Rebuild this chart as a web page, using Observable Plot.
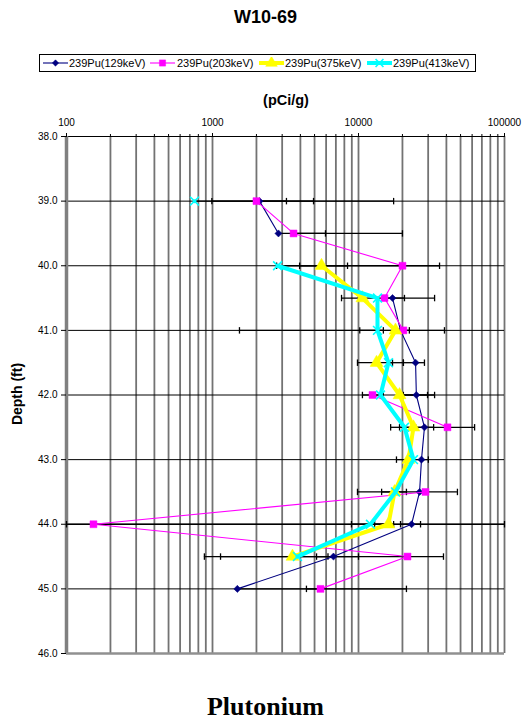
<!DOCTYPE html>
<html><head><meta charset="utf-8">
<script src="https://cdn.jsdelivr.net/npm/d3@7"></script>
<script src="https://cdn.jsdelivr.net/npm/@observablehq/plot@0.6"></script>
<style>
body{margin:0;background:#fff;font-family:"Liberation Sans",Arial,sans-serif;}
#wrap{position:relative;width:522px;height:723px;overflow:hidden;background:#fff;}
.abs{position:absolute;white-space:nowrap;line-height:1;color:#000;}
</style></head><body><div id="wrap"></div>
<script>
// ---------------- data ----------------
const depths = [39.0, 39.5, 40.0, 40.5, 41.0, 41.5, 42.0, 42.5, 43.0, 43.5, 44.0, 44.5, 45.0];
const seriesNames = ["239Pu(129keV)", "239Pu(203keV)", "239Pu(375keV)", "239Pu(413keV)"];
const pu129 = [2100, 2830, null, 17100, 19400, 24600, 24900, 28300, 27000, 26200, 23100, 6740, 1480];
const pu203 = [2000, 3590, 20000, 15070, 20300, null, 12470, 40700, null, 28760, 153, 21660, 5490];
const pu375 = [null, null, 5580, 10640, 17920, 13290, 19100, 23800, 22000, 17650, 16040, 3530, null];
const pu413 = [753, null, 2790, 13490, 13490, 16040, 14150, 20650, 23800, 17920, 12080, 3820, null];
// error bar ends (pCi/g); null = that side not drawn
const pu129Lo = [990, null, null, 7650, 1530, 20300, 20300, 24600, null, null, 19400, 3480, null];
const pu129Hi = [3210, 5940, null, 33200, 38800, 28300, 29700, 32700, null, null, 26600, 10000, 21300];
const pu203Lo = [null, null, 3950, null, 18300, null, 10640, 19100, null, 9840, 100, 5160, 4400];
const pu203Hi = [4920, 20000, 35900, 20650, 22300, null, 14800, 62400, null, 47600, 100000, 38200, null];
const pu375Lo = [null, null, 2750, null, null, 9840, null, 16600, null, 14400, 12900, 880, null];
const pu375Hi = [null, null, 8410, null, null, 17100, 33200, null, null, 21300, null, 6180, null];
const pu413Lo = [null, null, null, null, 10200, null, null, null, 18200, null, 8950, 1135, null];
const pu413Hi = [17400, null, null, null, 14800, 20300, null, null, 30100, null, 17400, null, null];
const xTickValues = [100, 1000, 10000, 100000];
const depthTicks = [38, 39, 40, 41, 42, 43, 44, 45, 46];

// ---------------- styles ----------------
const styles = [
  {color: "#000080", symbol: "diamond2", r: 3.2, lw: 1.1, fill: true},
  {color: "#FF00FF", symbol: "square", r: 3.9, lw: 1.1, fill: true},
  {color: "#FFFF00", symbol: "triangle", r: 4.8, lw: 4, fill: true},
  {color: "#00FFFF", symbol: "times", r: 4.1, lw: 4, fill: false}
];
const values = [pu129, pu203, pu375, pu413];
const los = [pu129Lo, pu203Lo, pu375Lo, pu413Lo];
const his = [pu129Hi, pu203Hi, pu375Hi, pu413Hi];

const rows = [];
seriesNames.forEach((name, s) => depths.forEach((d, i) => rows.push({
  s, name, depth: d, value: values[s][i], lo: los[s][i], hi: his[s][i]
})));
const errRows = rows.filter(r => r.value != null && (r.lo != null || r.hi != null));
const capRows = [];
errRows.forEach(r => {
  if (r.lo != null) capRows.push({depth: r.depth, x: r.lo});
  if (r.hi != null) capRows.push({depth: r.depth, x: r.hi});
});
const gridX = d3.range(2, 5).flatMap(k => d3.range(1, 10).map(m => m * 10 ** k)).concat([100000]);

const seriesMarks = styles.flatMap((st, s) => {
  const data = rows.filter(r => r.s === s);
  return [
    Plot.line(data, {x: "value", y: "depth", stroke: st.color, strokeWidth: st.lw}),
    Plot.dot(data.filter(r => r.value != null), {
      x: "value", y: "depth", symbol: st.symbol, r: st.r,
      fill: st.fill ? st.color : "none", stroke: st.color, strokeWidth: st.fill ? 0.5 : 1.6
    })
  ];
});

const chart = Plot.plot({
  width: 522, height: 600,
  marginTop: 56, marginBottom: 27, marginLeft: 66, marginRight: 18,
  style: {fontFamily: "'Liberation Sans', Arial, sans-serif", fontSize: "10px", background: "transparent", color: "#000", overflow: "visible"},
  x: {type: "log", domain: [100, 100000], label: null},
  y: {domain: [38, 46], reverse: true, label: null},
  marks: [
    Plot.ruleX(gridX, {stroke: "#737373", strokeWidth: 1.8}),
    Plot.ruleY(depthTicks, {stroke: "#000", strokeWidth: 1}),
    Plot.ruleX([100], {stroke: "#808080", strokeWidth: 3.5}),
    Plot.ruleY([46], {stroke: "#909090", strokeWidth: 2.5}),
    Plot.ruleY(errRows, {y: "depth", x1: r => r.lo ?? r.value, x2: r => r.hi ?? r.value, stroke: "#000", strokeWidth: 1.3, clip: true}),
    Plot.link(capRows, {x1: "x", x2: "x", y1: r => r.depth - 0.05, y2: r => r.depth + 0.05, stroke: "#000", strokeWidth: 1.3}),
    ...seriesMarks,
    Plot.axisX(gridX, {anchor: "top", tickSize: 3, tickFormat: () => "", label: null}),
    Plot.axisX({anchor: "top", ticks: xTickValues, tickFormat: d => String(d), tickSize: 4, tickPadding: 7, label: null, fontSize: 10}),
    Plot.axisY({ticks: depthTicks, tickFormat: d3.format(".1f"), tickSize: 5, tickPadding: 4, label: null, fontSize: 10})
  ]
});

const wrap = document.getElementById("wrap");
chart.style.position = "absolute";
chart.style.left = "0px";
chart.style.top = "80px";
wrap.appendChild(chart);

function addText(txt, css) {
  const el = document.createElement("div");
  el.className = "abs";
  el.textContent = txt;
  Object.assign(el.style, css);
  wrap.appendChild(el);
  return el;
}
addText("W10-69", {left: "265.5px", top: "8px", transform: "translateX(-50%)", fontWeight: "bold", fontSize: "18px"});
addText("(pCi/g)", {left: "286px", top: "93px", transform: "translateX(-50%)", fontWeight: "bold", fontSize: "14.5px"});
addText("Depth (ft)", {left: "17px", top: "394px", transform: "translate(-50%,-50%) rotate(-90deg)", fontWeight: "bold", fontSize: "14px"});
addText("Plutonium", {left: "265.5px", top: "694px", transform: "translateX(-50%)", fontWeight: "bold", fontSize: "26px", fontFamily: "'Liberation Serif','Times New Roman',serif"});

// legend
const legend = document.createElement("div");
legend.className = "abs";
Object.assign(legend.style, {left: "39px", top: "54px", width: "437px", height: "18px", border: "1px solid #000", boxSizing: "border-box", background: "#fff"});
wrap.appendChild(legend);
const swatchX = [43, 150, 259, 367];
const textX = [69, 177, 285, 393];
styles.forEach((st, s) => {
  const svg = d3.create("svg").attr("width", 26).attr("height", 12)
    .style("position", "absolute").style("left", (swatchX[s] - 40) + "px").style("top", "2px");
  svg.append("line").attr("x1", 0).attr("x2", 25).attr("y1", 6).attr("y2", 6)
    .attr("stroke", st.color).attr("stroke-width", st.lw);
  const sym = {diamond2: d3.symbolDiamond2, square: d3.symbolSquare, triangle: d3.symbolTriangle, times: d3.symbolTimes}[st.symbol];
  svg.append("path").attr("transform", "translate(12.5,6)")
    .attr("d", d3.symbol(sym, Math.PI * st.r * st.r * 0.8)())
    .attr("fill", st.fill ? st.color : "none").attr("stroke", st.color).attr("stroke-width", st.fill ? 0.5 : 1.6);
  legend.appendChild(svg.node());
  const t = document.createElement("div");
  t.className = "abs";
  t.textContent = seriesNames[s];
  Object.assign(t.style, {left: (textX[s] - 40) + "px", top: "2.5px", fontSize: "11px"});
  legend.appendChild(t);
});
</script></body></html>
